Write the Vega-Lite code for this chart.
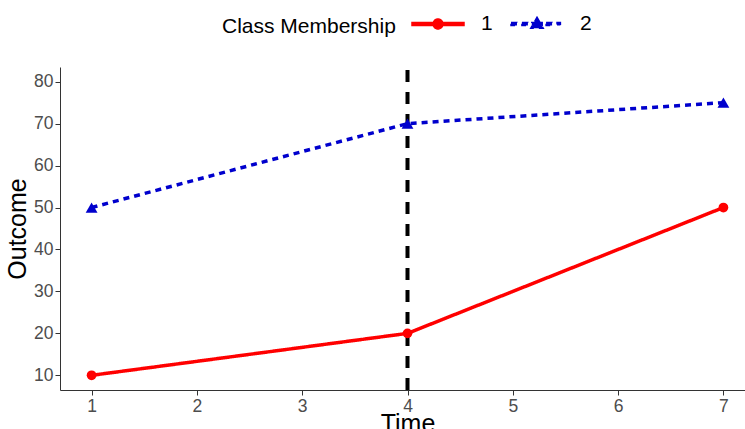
{
  "$schema": "https://vega.github.io/schema/vega-lite/v6.json",
  "autosize": "none",
  "width": 695,
  "height": 323,
  "padding": {"left": 60, "top": 67, "right": 0, "bottom": 39},
  "background": "white",
  "config": {
    "view": {"stroke": null},
    "font": "Liberation Sans",
    "axis": {
      "grid": false,
      "domainColor": "#333333",
      "domainWidth": 1,
      "tickColor": "#333333",
      "tickSize": 5,
      "labelFont": "Liberation Sans",
      "labelFontSize": 17.5,
      "labelColor": "#4d4d4d",
      "titleFont": "Liberation Sans",
      "titleFontSize": 25,
      "titleFontWeight": "normal",
      "titleColor": "black"
    }
  },
  "datasets": {
    "traj": [
      {"time": 1, "outcome": 10, "cls": "1"},
      {"time": 4, "outcome": 20, "cls": "1"},
      {"time": 7, "outcome": 50, "cls": "1"},
      {"time": 1, "outcome": 50, "cls": "2"},
      {"time": 4, "outcome": 70, "cls": "2"},
      {"time": 7, "outcome": 75, "cls": "2"}
    ],
    "vline": [{"time": 4, "y0": 6.5, "y1": 83.8}]
  },
  "layer": [
    {
      "data": {"name": "vline"},
      "mark": {"type": "rule", "color": "black", "strokeWidth": 4, "strokeDash": [12, 10], "clip": false},
      "encoding": {
        "x": {"field": "time", "type": "quantitative"},
        "y": {"field": "y0", "type": "quantitative"},
        "y2": {"field": "y1"}
      }
    },
    {
      "data": {"name": "traj"},
      "mark": {"type": "line", "strokeWidth": 3.5},
      "encoding": {
        "x": {
          "field": "time", "type": "quantitative",
          "scale": {"domain": [0.7, 7.3], "nice": false, "zero": false},
          "axis": {"values": [1, 2, 3, 4, 5, 6, 7], "format": "d", "title": "Time", "labelPadding": 2, "titlePadding": -3}
        },
        "y": {
          "field": "outcome", "type": "quantitative",
          "scale": {"domain": [6.5, 83.5], "nice": false, "zero": false},
          "axis": {"values": [10, 20, 30, 40, 50, 60, 70, 80], "title": "Outcome", "labelPadding": 2, "titlePadding": 3}
        },
        "color": {
          "field": "cls", "type": "nominal",
          "scale": {"domain": ["1", "2"], "range": ["#ff0000", "#0000cd"]},
          "legend": {
            "title": "Class Membership",
            "orient": "none",
            "legendX": 162,
            "legendY": -70,
            "direction": "horizontal",
            "titleOrient": "left",
            "titleFontSize": 21,
            "titleFontWeight": "normal",
            "titleColor": "black",
            "titleBaseline": "top",
            "titleAnchor": "middle",
            "titlePadding": 15,
            "labelFontSize": 21,
            "labelColor": "black",
            "labelOffset": 16,
            "columnPadding": 15,
            "symbolSize": 2704,
            "encode": {
              "symbols": {
                "update": {
                  "shape": [
                    {"test": "datum.value == '1'", "value": "M-1,-0.06H-0.19V0.06H-1Z M0.19,-0.06H1V0.06H0.19Z M-0.19,0A0.19,0.19 0 1,1 0.19,0A0.19,0.19 0 1,1 -0.19,0Z"},
                    {"value": "M-1,-0.06H-0.77V0.06H-1Z M-0.58,-0.06H-0.35V0.06H-0.58Z M-0.2,-0.06H-0.1V0.06H-0.2Z M0.1,-0.06H0.2V0.06H0.1Z M0,-0.26L0.24,0.16H-0.24Z M0.35,-0.06H0.58V0.06H0.35Z M0.77,-0.06H0.9V0.06H0.77Z"}
                  ],
                  "fill": [
                    {"test": "datum.value == '1'", "value": "#ff0000"},
                    {"value": "#0000cd"}
                  ],
                  "stroke": {"value": "transparent"},
                  "strokeDash": {"value": []},
                  "opacity": {"value": 1}
                }
              }
            }
          }
        },
        "strokeDash": {
          "field": "cls", "type": "nominal",
          "scale": {"domain": ["1", "2"], "range": [[1, 0], [6, 5]]},
          "legend": null
        }
      }
    },
    {
      "data": {"name": "traj"},
      "transform": [{"filter": "datum.cls == '1'"}],
      "mark": {"type": "point", "filled": true, "opacity": 1, "size": 95, "shape": "circle"},
      "encoding": {
        "x": {"field": "time", "type": "quantitative"},
        "y": {"field": "outcome", "type": "quantitative"},
        "color": {"field": "cls", "type": "nominal"}
      }
    },
    {
      "data": {"name": "traj"},
      "transform": [{"filter": "datum.cls == '2'"}],
      "mark": {"type": "point", "filled": true, "opacity": 1, "size": 140, "shape": "triangle-up"},
      "encoding": {
        "x": {"field": "time", "type": "quantitative"},
        "y": {"field": "outcome", "type": "quantitative"},
        "color": {"field": "cls", "type": "nominal"}
      }
    }
  ]
}
